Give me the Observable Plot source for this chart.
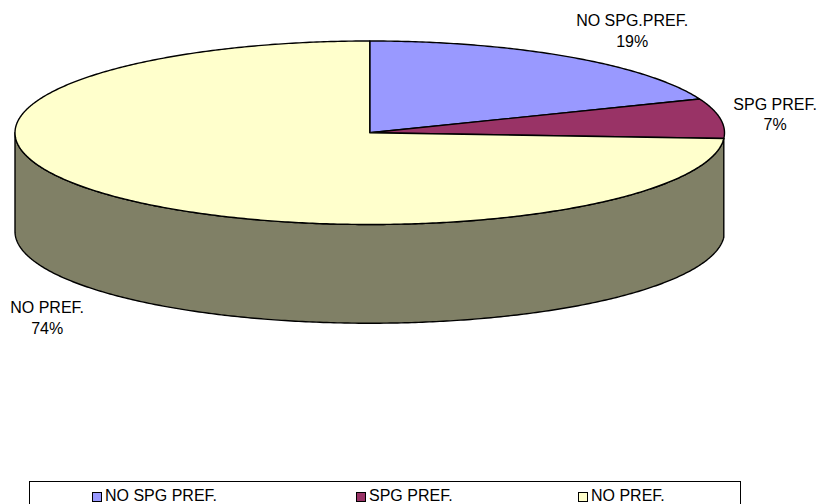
<!DOCTYPE html>
<html>
<head>
<meta charset="utf-8">
<script src="https://cdn.jsdelivr.net/npm/d3@7"></script>
<script src="https://cdn.jsdelivr.net/npm/@observablehq/plot@0.6"></script>
<style>
html,body{margin:0;padding:0;background:#fff;overflow:hidden;width:817px;height:504px}
#chart{position:absolute;left:0;top:0}
#legend{position:absolute;left:29px;top:481px;width:710px;height:40px;border:1.5px solid #000;box-sizing:content-box;font:16px "Liberation Sans",Arial,sans-serif;color:#000}
#legend div{position:absolute;top:5px;line-height:18px;white-space:nowrap}
#legend i{position:absolute;top:4.5px;width:8px;height:8px;border:1.2px solid #000;left:-13px}
</style>
</head>
<body>
<div id="chart"></div>
<div id="legend"></div>
<script>
const categories = ["NO SPG.PREF.", "SPG PREF.", "NO PREF."];
const legendLabels = ["NO SPG PREF.", "SPG PREF.", "NO PREF."];
const shares = [19, 7, 74];
const colors = ["#9999FF", "#993366", "#FFFFCC"];
const sideColor = "#808066";
const depth = 1.076;
const legendLeft = [75, 339, 561];

const total = d3.sum(shares);
let run = 0;
const slices = shares.map((v, i) => {
  const start = run / total * 2 * Math.PI;
  run += v;
  return {i, label: categories[i] + "\n" + v + "%", start, end: run / total * 2 * Math.PI, color: colors[i]};
});
const rim = (t, off = 0) => ({x: Math.sin(t), y: -Math.cos(t) + off});
const arc = (a, b, off = 0) => {
  const n = Math.max(2, Math.ceil((b - a) / 0.01));
  return d3.range(n + 1).map(k => rim(a + (b - a) * k / n, off));
};
const last = slices[slices.length - 1];
const sideTop = arc(last.start, 1.5 * Math.PI);
const sideBottom = arc(last.start, 1.5 * Math.PI, depth).reverse();
const sidePts = [...sideTop, ...sideBottom, sideTop[0]];

const lineOpts = {x: "x", y: "y", strokeWidth: 1.4, stroke: "#000", strokeLinejoin: "round", curve: "linear"};
const labelOffsets = [[63, -27], [55, -5], [-64, 121]];

const plot = Plot.plot({
  width: 817,
  height: 476,
  margin: 0,
  x: {domain: [-1, 1], range: [14.5, 724], axis: null},
  y: {domain: [-1, 1], range: [40.5, 224], axis: null},
  marks: [
    Plot.line(sidePts, {...lineOpts, fill: sideColor}),
    ...slices.map(s => Plot.line(
      [{x: 0, y: 0}, ...arc(s.start, s.end), {x: 0, y: 0}],
      {...lineOpts, fill: s.color}
    )),
    ...slices.map(s => {
      const m = rim((s.start + s.end) / 2);
      return Plot.text([{...m, label: s.label}], {
        x: "x", y: "y", text: "label",
        dx: labelOffsets[s.i][0], dy: labelOffsets[s.i][1],
        fontSize: 16, lineHeight: 1.3, fill: "#000",
        fontFamily: "'Liberation Sans', Arial, sans-serif"
      });
    })
  ]
});
document.getElementById("chart").appendChild(plot);

const legend = document.getElementById("legend");
legendLabels.forEach((t, i) => {
  const d = document.createElement("div");
  d.style.left = legendLeft[i] + "px";
  const sw = document.createElement("i");
  sw.style.background = colors[i];
  d.appendChild(sw);
  d.appendChild(document.createTextNode(t));
  legend.appendChild(d);
});
</script>
</body>
</html>
